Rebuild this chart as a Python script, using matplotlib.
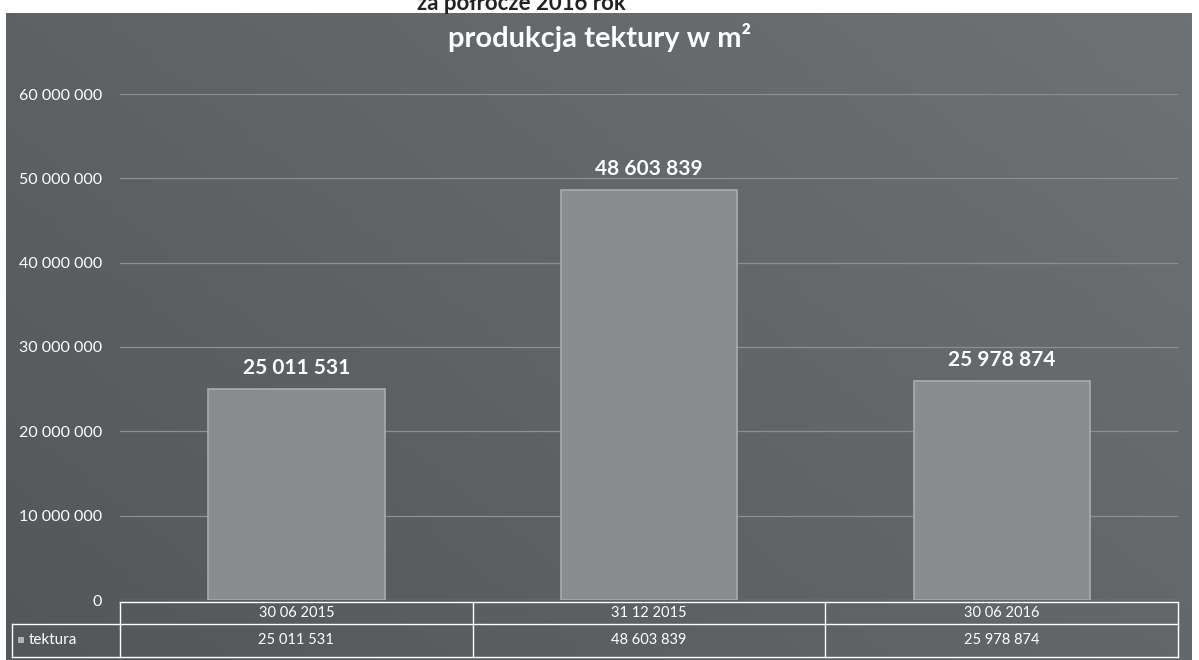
import numpy as np
import matplotlib.pyplot as plt
from matplotlib.patches import Rectangle
from matplotlib.colors import LinearSegmentedColormap

categories = ["30 06 2015", "31 12 2015", "30 06 2016"]
tektura = [25011531, 48603839, 25978874]
series_name = "tektura"
yticks = [0, 10000000, 20000000, 30000000, 40000000, 50000000, 60000000]


def fmt(v):
    return f"{v:,}".replace(",", " ")


plt.rcParams["font.family"] = ["Lato", "DejaVu Sans"]

fig = plt.figure(figsize=(11.99, 6.6), dpi=100, facecolor="white")

# grey panel with a soft gradient (darker bottom-left, lighter top-right)
bg = fig.add_axes([6 / 1199, 0, 1186 / 1199, 647 / 660], zorder=0)
grad = np.linspace(0, 1, 256)[None, :] * 0.6 + np.linspace(1, 0, 64)[:, None] * 0.4
cmap = LinearSegmentedColormap.from_list("panel", ["#54575a", "#6f7275"])
bg.imshow(grad, cmap=cmap, vmin=0, vmax=1, aspect="auto", extent=[0, 1, 0, 1])
bg.set_axis_off()

# half-cut heading from the page above
fig.text(0.435, 0.995, "za półrocze 2016 rok", ha="center", va="center",
         fontsize=16, fontweight="bold", color="#222222")

ax = fig.add_axes([120 / 1199, 60 / 660, 1058 / 1199, 506 / 660], zorder=1)
ax.patch.set_alpha(0)
x = np.arange(len(categories))
bars = ax.bar(x, tektura, width=0.5, color="#8a8c8f", edgecolor="#a9abae", linewidth=1.2, zorder=3)
ax.set_xlim(-0.5, len(categories) - 0.5)
ax.set_ylim(0, 60000000)
ax.set_yticks(yticks)
ax.set_yticklabels([fmt(t) for t in yticks], color="white", fontsize=11.5)
ax.set_xticks([])
ax.tick_params(axis="y", length=0, pad=13)
ax.grid(axis="y", color="#8d9093", linewidth=0.9, zorder=1)
for s in ax.spines.values():
    s.set_visible(False)

for b, v in zip(bars, tektura):
    ax.annotate(fmt(v), (b.get_x() + b.get_width() / 2, v), xytext=(0, 8),
                textcoords="offset points", ha="center", va="bottom",
                fontsize=15, fontweight="bold", color="white")

fig.text(600 / 1199, 1 - 38 / 660, "produkcja tektury w m²", color="white", fontsize=21,
         fontweight="bold", ha="center", va="center")

# data table under the plot
tr = ax.transAxes
r0, r1, r2 = -0.004, -0.047, -0.112
left = -0.102
lk = dict(color="white", linewidth=1.0, transform=tr, clip_on=False)
ax.plot([0, 1], [r0, r0], **lk)
ax.plot([left, 1], [r1, r1], **lk)
ax.plot([left, 1], [r2, r2], **lk)
ax.plot([left, left], [r1, r2], **lk)
for i in range(len(categories) + 1):
    xc = i / len(categories)
    ax.plot([xc, xc], [r0, r2], **lk)
for i, (c, v) in enumerate(zip(categories, tektura)):
    xc = (i + 0.5) / len(categories)
    ax.text(xc, (r0 + r1) / 2, c, ha="center", va="center", color="white", fontsize=10.5, transform=tr)
    ax.text(xc, (r1 + r2) / 2, fmt(v), ha="center", va="center", color="white", fontsize=10.5, transform=tr)
ax.add_patch(Rectangle((left + 0.006, (r1 + r2) / 2 - 0.006), 0.005, 0.012, transform=tr,
                       facecolor="#b0b2b5", clip_on=False))
ax.text(left + 0.016, (r1 + r2) / 2, series_name, ha="left", va="center", color="white",
        fontsize=11, transform=tr)

fig.savefig("out.png", dpi=100, facecolor="white")
